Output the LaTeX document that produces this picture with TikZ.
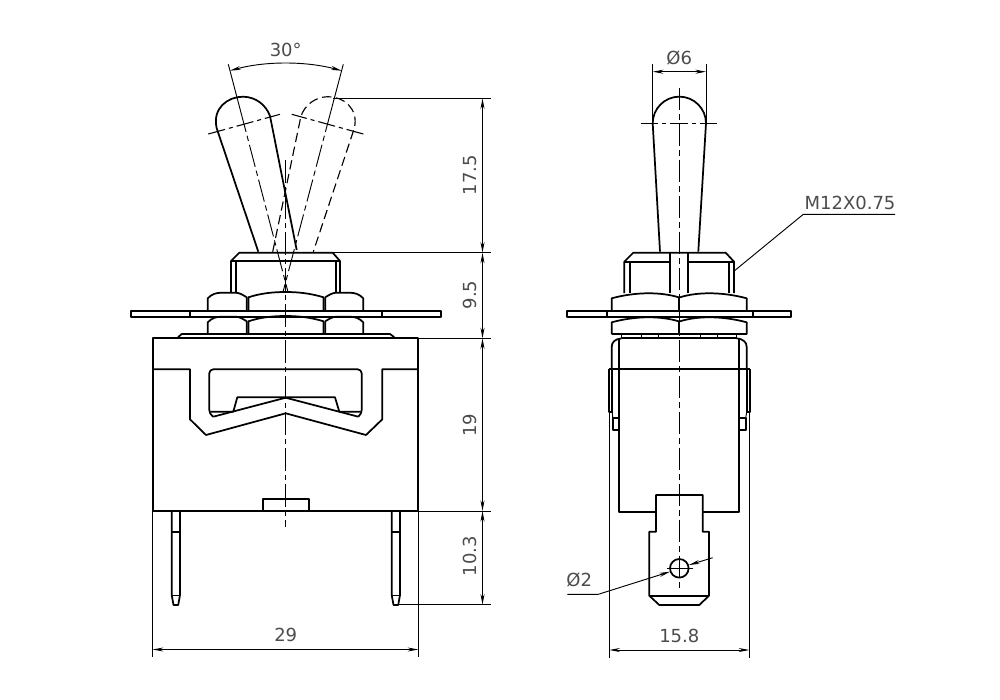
\documentclass[tikz,border=0pt]{standalone}
\usepackage{fontspec}
\setmainfont{DejaVu Sans}
\usetikzlibrary{arrows.meta}
\tikzset{
    part/.style={line width=1.3pt, black, line join=round},
    fine/.style={line width=0.7pt, black},
    ghost/.style={line width=0.85pt, black, dash pattern=on 7pt off 3.5pt},
    axisline/.style={line width=0.7pt, black, dash pattern=on 17pt off 3pt on 4pt off 3pt},
    crossline/.style={line width=0.8pt, black, dash pattern=on 13pt off 3pt on 3pt off 3pt},
    dimline/.style={line width=0.7pt, black, {Stealth[length=8pt,width=3pt]}-{Stealth[length=8pt,width=3pt]}},
    tipto/.style={line width=0.7pt, black, -{Stealth[length=8pt,width=3pt]}},
    dimtext/.style={font=\fontsize{13.5pt}{15pt}\selectfont, text=black!70, inner sep=0pt}
}
\begin{document}
\begin{tikzpicture}[x=0.75pt, y=-0.75pt]
    \useasboundingbox (0,0) rectangle (1000,700);
    \fill[white] (0,0) rectangle (1000,700);

    % left view: lever in both positions
    \draw[part] (258.3,251.7) -- (216.7,128.3) .. controls (212,108) and (228,96.5) .. (243.3,96.7)
        .. controls (256,97) and (266,105) .. (270,116) -- (296.7,250);
    \draw[ghost] (272.7,251.7) -- (301,116) .. controls (305,105) and (315,97) .. (327.7,96.7)
        .. controls (343,96.5) and (359,108) .. (354.3,128.3) -- (313.3,251.7);
    \draw[crossline] (208.3,134) -- (280,114.3);
    \draw[crossline] (363.3,134) -- (291.7,114.3);
    \draw[fine] (228.3,64.3) -- (240.3,110);
    \draw[fine] (343.3,64.3) -- (331.2,110);
    \draw[axisline] (240.3,110) -- (288,292);
    \draw[axisline] (331.2,110) -- (283,292);
    \draw[axisline] (285.5,160) -- (285.5,527);

    % left view: bushing
    \draw[part] (231,292.7) -- (231,261) -- (239.3,252.7) -- (332.7,252.7) -- (340,261) -- (340,292.7);
    \draw[part] (231,261) -- (340,261);
    \draw[part] (236,261) -- (236,292.7) (336,261) -- (336,292.7);

    % left view: both nuts
    \foreach \dy/\nutbase in {0/311.3, 24/334.3} {
        \draw[part] (207.7,\nutbase) -- (207.7,298.3+\dy) .. controls (212,294+\dy) and (216,292.7+\dy) .. (222,292.7+\dy)
            -- (236,292.7+\dy) .. controls (240,293+\dy) and (243,295+\dy) .. (246.7,297.3+\dy) -- (246.7,\nutbase);
        \draw[part] (248.5,\nutbase) -- (248.5,297.3+\dy) .. controls (260,293.5+\dy) and (272,292+\dy) .. (285.5,292+\dy)
            .. controls (299,292+\dy) and (311,293.5+\dy) .. (323.5,297.3+\dy) -- (323.5,\nutbase);
        \draw[part] (363.3,\nutbase) -- (363.3,298.3+\dy) .. controls (359,294+\dy) and (355,292.7+\dy) .. (349,292.7+\dy)
            -- (336,292.7+\dy) .. controls (332,293+\dy) and (329,295+\dy) .. (325.3,297.3+\dy) -- (325.3,\nutbase);
    }
    \draw[part] (207.7,334.3) -- (363.3,334.3);

    % left view: plate, washer
    \draw[part] (130.7,311.3) rectangle (440.7,316.7);
    \draw[part] (190,311.3) -- (190,316.7) (381.7,311.3) -- (381.7,316.7);
    \draw[part] (178.3,338.3) -- (178.3,337) -- (181.7,334) -- (390,334) -- (394,337) -- (394,338.3);

    % left view: housing
    \draw[part] (152.7,338.3) rectangle (418.3,511);
    \draw[part] (152.7,369.3) -- (190,369.3) -- (190,419.3) -- (206,435) -- (285.7,413.3) -- (366,435) -- (382.3,419.3) -- (382.3,369.3) -- (418.3,369.3);
    \draw[part, rounded corners=3pt] (213.3,416.7) -- (209.3,414) -- (209.3,369.3) -- (361.7,369.3) -- (361.7,414) -- (358.3,416.7);
    \draw[part] (213.3,416.7) -- (285.7,397.7) -- (358.3,416.7);
    \draw[part] (210.7,411.7) -- (233.3,411.7) -- (237.3,397.3) -- (335,397.3) -- (339.3,411.7) -- (360.7,411.7);
    \draw[part] (262.7,511) -- (262.7,499.3) -- (308.7,499.3) -- (308.7,511);

    % left view: pins
    \foreach \pinx in {171.7, 391.7} {
        \draw[part] (\pinx,511) -- (\pinx,595) -- (\pinx+1.8,605) -- (\pinx+6.5,605) -- (\pinx+8.3,595) -- (\pinx+8.3,511);
        \draw[part] (\pinx,531.7) -- (\pinx+8.3,531.7);
        \draw[fine] (\pinx,595) -- (\pinx+8.3,595);
    }

    % left view: dimensions
    \draw[fine] (333,98.3) -- (490.7,98.3);
    \draw[fine] (333,252.7) -- (490.7,252.7);
    \draw[fine] (418.3,338.3) -- (490.7,338.3);
    \draw[fine] (418.3,511) -- (490.7,511);
    \draw[fine] (398.3,604.7) -- (490.7,604.7);
    \draw[dimline] (482.5,98.3) -- (482.5,252.7);
    \draw[dimline] (482.5,252.7) -- (482.5,338.3);
    \draw[dimline] (482.5,338.3) -- (482.5,511);
    \draw[dimline] (482.5,511) -- (482.5,604.7);
    \draw[fine] (152.7,511) -- (152.7,656.7);
    \draw[fine] (418.3,511) -- (418.3,656.7);
    \draw[dimline] (152.7,649.5) -- (418.3,649.5);
    \draw[dimline] (230,70.7) .. controls (265,61) and (306,61) .. (341.7,70.7);
    \node[dimtext] (angle) at (285.7,50) {30°};
    \node[dimtext, rotate=90] (lever) at (470,175) {17.5};
    \node[dimtext, rotate=90] (bush) at (470,295) {9.5};
    \node[dimtext, rotate=90] (depth) at (470,425) {19};
    \node[dimtext, rotate=90] (pinlen) at (470,556) {10.3};
    \node[dimtext] (width) at (285.7,635) {29};

    % right view: lever
    \draw[part] (660,251.7) -- (652.7,123.3) arc[start angle=180, end angle=360, radius=26.65] -- (698.3,251.7);
    \draw[crossline] (641,123.7) -- (717.3,123.7);
    \draw[axisline] (679.3,87.7) -- (679.3,588);

    % right view: bushing
    \draw[part] (624.3,293) -- (624.3,261.7) -- (633.3,252.7) -- (725.7,252.7) -- (734,261.7) -- (734,293);
    \draw[part] (624.3,261.7) -- (670,261.7) (688.3,261.7) -- (734,261.7);
    \draw[part] (630,261.7) -- (630,293) (729,261.7) -- (729,293);
    \draw[part] (670,252.7) -- (670,293.3) (688.3,252.7) -- (688.3,293.3);

    % right view: nuts
    \foreach \dy/\nutbase in {0/311.3, 24/334.3} {
        \draw[part] (611.7,\nutbase) -- (611.7,298.3+\dy) .. controls (635,292+\dy) and (660,291.5+\dy) .. (679.3,297.5+\dy)
            .. controls (698,291.5+\dy) and (723,292+\dy) .. (746.7,298.3+\dy) -- (746.7,\nutbase);
        \draw[part] (679.3,297.5+\dy) -- (679.3,\nutbase);
    }
    \draw[part] (611.7,334.3) -- (746.7,334.3);
    \draw[part] (567.3,311.3) rectangle (791,316.7);
    \draw[part] (606.7,311.3) -- (606.7,316.7) (752.7,311.3) -- (752.7,316.7);

    % right view: washer and housing
    \draw[part] (621.7,338.3) -- (736.7,338.3);
    \draw[fine] (621.7,334.3) -- (621.7,338.3) (641,334.3) -- (641,338.3) (658.3,334.3) -- (658.3,338.3);
    \draw[fine] (700,334.3) -- (700,338.3) (717.3,334.3) -- (717.3,338.3) (736.7,334.3) -- (736.7,338.3);
    \draw[part] (611.7,369.3) -- (611.7,347) .. controls (611.7,342) and (615,339) .. (621.7,338.3);
    \draw[part] (746.7,369.3) -- (746.7,347) .. controls (746.7,342) and (743,339) .. (736.7,338.3);
    \draw[part] (619.3,338.3) -- (619.3,511.7) -- (656,511.7);
    \draw[part] (739,338.3) -- (739,511.7) -- (702.7,511.7);
    \draw[part] (609.3,369.3) -- (749.7,369.3);
    \draw[part] (609.3,369.3) -- (609.3,411.7) -- (612.3,411.7) -- (612.3,369.3);
    \draw[part] (749.7,369.3) -- (749.7,411.7) -- (746.7,411.7) -- (746.7,369.3);
    \draw[part] (612.7,418.3) rectangle (619.3,430);
    \draw[part] (739,418.3) rectangle (745.7,430);
    \draw[fine] (612.3,411.7) -- (612.7,418.3) (746.7,411.7) -- (745.7,418.3);

    % right view: blade
    \draw[part] (656,511.7) -- (656,495) -- (702.7,495) -- (702.7,531.7) -- (709,531.7) -- (709,595.7) -- (699.3,605) -- (659.3,605) -- (649.3,595.7) -- (649.3,531.7) -- (656,531.7) -- (656,511.7);
    \draw[part] (649.3,595.7) -- (709,595.7);
    \draw[part] (679.3,568.3) circle[radius=9.3];
    \draw[fine] (666.7,568.3) -- (693,568.3);

    % right view: dimensions
    \draw[fine] (652.7,64) -- (652.7,123);
    \draw[fine] (706,64) -- (706,123);
    \draw[dimline] (652.7,71.7) -- (706,71.7);
    \draw[fine] (609.3,411.7) -- (609.3,658.3);
    \draw[fine] (749.3,411.7) -- (749.3,658.3);
    \draw[dimline] (609.3,650) -- (749.3,650);
    \draw[tipto] (567.3,594.3) -- (598.3,594.3) -- (670,571.7);
    \draw[tipto] (712.7,557.7) -- (689,565);
    \draw[fine] (733.3,271.7) -- (803.3,214.3) -- (895,214.3);
    \node[dimtext] (bore) at (679.3,57.7) {Ø6};
    \node[dimtext] (thread) at (850,202.7) {M12X0.75};
    \node[dimtext] (hole) at (579.3,580) {Ø2};
    \node[dimtext] (span) at (679.3,636) {15.8};
\end{tikzpicture}
\end{document}
